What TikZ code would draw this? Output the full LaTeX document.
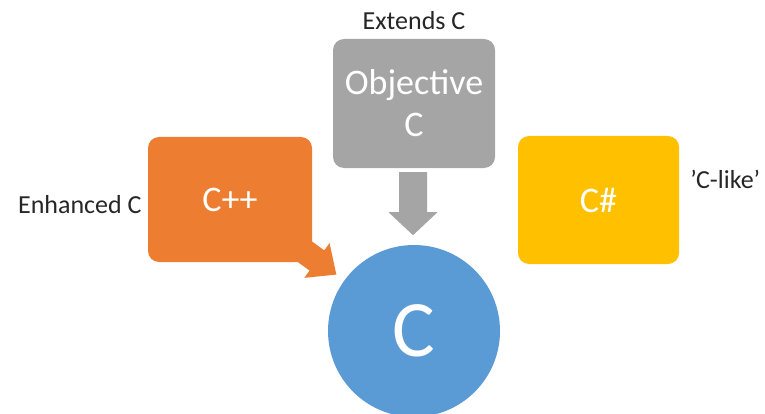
\documentclass[tikz,border=0pt]{standalone}
\usepackage{fontspec}
\setmainfont{Carlito}
\usetikzlibrary{positioning,calc,backgrounds}
\definecolor{cblue}{HTML}{5B9BD5}
\definecolor{objgray}{HTML}{A5A5A5}
\definecolor{cppor}{HTML}{ED7D31}
\definecolor{csyel}{HTML}{FFC000}
\tikzstyle{block} = [rectangle, rounded corners=11pt, text=white, align=center, font=\fontsize{36}{42}\selectfont]
\tikzstyle{note} = [inner sep=0pt, text=black!85, font=\fontsize{26}{31}\selectfont]

\begin{document}
\begin{tikzpicture}[x=1pt, y=1pt]
        \useasboundingbox (0,0) rectangle (765,413);
        \node[circle, fill=cblue, minimum size=172pt, text=white, font=\fontsize{80}{96}\selectfont] (lang) at (414,82) {C};
        \node[block, fill=objgray, minimum width=162pt, minimum height=129pt] (objc) at (414,309.5) {Objective\\C};
        \node[block, fill=cppor, minimum width=164pt, minimum height=125pt] (cpp) at (230,213.5) {C++};
        \node[block, fill=csyel, minimum width=161pt, minimum height=128pt] (csharp) at (598.5,213) {C\#};

        \node[note, above=9pt of objc] (extends) {Extends C};
        \node[note, left=6pt of cpp, yshift=-5pt] (enhanced) {Enhanced C};
        \node[note, right=11pt of csharp, yshift=21pt] (clike) {'C-like'};

        \begin{pgfonlayer}{background}
        \fill[objgray] ($(objc.south)+(-15,-4)$) -- ++(0,-40) -- ++(-10.5,0) -- ++(24.5,-23) -- ++(24.5,23) -- ++(-10.5,0) -- ++(0,40) -- cycle;
        \fill[cppor, shift={($(lang.center)+(144:96)$)}, rotate=-36] (0,0) -- (-24,21.5) -- (-24,12.5) -- (-70,12.5) -- (-70,-12.5) -- (-24,-12.5) -- (-24,-21.5) -- cycle;
        \end{pgfonlayer}
    \end{tikzpicture}
\end{document}
